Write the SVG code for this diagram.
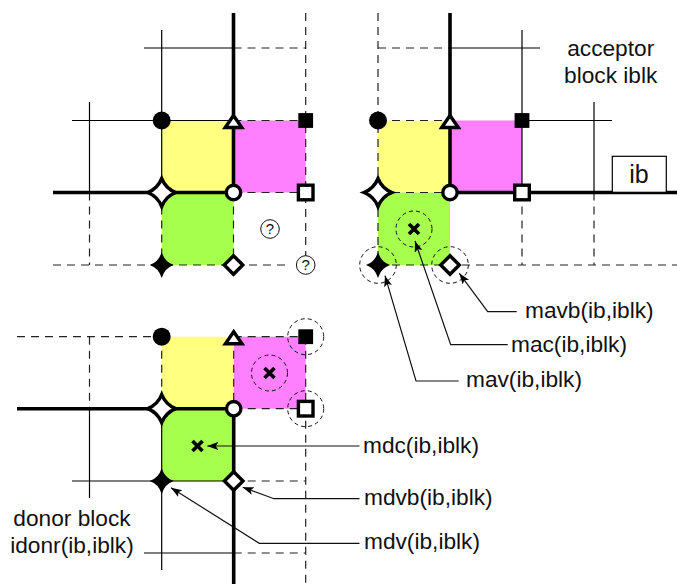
<svg xmlns="http://www.w3.org/2000/svg" xmlns:xlink="http://www.w3.org/1999/xlink" width="677" height="584" viewBox="0 0 677 584">
<style>
.thin{stroke:#000;stroke-width:1.2;fill:none}
.dash{stroke:#222;stroke-width:1.2;fill:none;stroke-dasharray:8 6}
.thick{stroke:#000;stroke-width:3.6;fill:none}
.lead{stroke:#111;stroke-width:1.2;fill:none;marker-end:url(#arr)}
.ring{stroke:#111;stroke-width:1;fill:none;stroke-dasharray:4 3.2}
.y{fill:#ffff80}.m{fill:#ff80ff}.g{fill:#a6ff4d}
text{font-family:"Liberation Sans",Arial,sans-serif;font-size:22.7px;fill:#111}
.mid{text-anchor:middle}
.open{fill:#fff;stroke:#000;stroke-width:3.4}
.solid{fill:#000}
.q{fill:#fff;stroke:#111;stroke-width:1}
</style>
<defs>
<marker id="arr" markerWidth="12" markerHeight="10" refX="11" refY="4" orient="auto" markerUnits="userSpaceOnUse"><path d="M0 0L11 4L0 8L2.5 4Z" fill="#000"/></marker>
<circle id="sCirc" r="9" class="solid"/>
<path id="sTri" class="open" d="M0 -5L8.3 7H-8.3Z"/>
<rect id="sSq" x="-7.4" y="-7.4" width="14.8" height="14.8" class="solid"/>
<path id="sStarO" class="open" d="M0 -14Q4 -4 14 0Q4 4 0 14Q-4 4 -14 0Q-4 -4 0 -14Z"/>
<circle id="sCircO" r="7.2" class="open"/>
<rect id="sSqO" x="-7.3" y="-7.3" width="14.6" height="14.6" class="open"/>
<path id="sStar" class="solid" d="M0 -13Q3 -3 12 0Q3 3 0 13Q-3 3 -12 0Q-3 -3 0 -13Z"/>
<path id="sDia" class="open" d="M0 -9.3L9.3 0L0 9.3L-9.3 0Z"/>
<path id="sX" d="M-5 -5L5 5M5 -5L-5 5" stroke="#000" stroke-width="3.6" fill="none"/>
</defs>

<g id="fills">
<rect class="m" x="233.5" y="120.5" width="72.2" height="72"/>
<rect class="y" x="161.7" y="120.5" width="72" height="72" rx="11"/>
<rect class="g" x="161.7" y="192.5" width="72" height="72.5" rx="11"/>
<rect class="m" x="450" y="120.5" width="72" height="72"/>
<rect class="y" x="378" y="120.5" width="72" height="72" rx="11"/>
<rect class="g" x="378" y="192.5" width="72" height="72.5" rx="11"/>
<rect class="m" x="233.7" y="336.7" width="72" height="72"/>
<rect class="y" x="161.7" y="336.7" width="72" height="72" rx="11"/>
<rect class="g" x="161.7" y="408.7" width="72" height="72.3" rx="11"/>
</g>

<g id="grid">
<path class="thin" d="M161.7 30V192M144 48H233.5M72 120.5H233.5M89.5 102V192"/>
<path class="dash" d="M233.5 48H305.7M305.7 13V265M233.5 120.5H305.7M233.5 192.5H305.7M233.5 192.5V265M161.7 192.5V265M89.5 192.5V265M53 265H290"/>
<path class="thin" d="M522 30V192M450 48H540M522 120.5H612M594 102V192"/>
<path class="dash" d="M378 13V265M378 48H450M378 120.5H450M378 192.5H450M522 192.5V265M594 192.5V265M378 265H677"/>
<path class="thin" d="M161.7 408.7V570M72 481H233.7M144 553H233.7M89.5 408.7V498"/>
<path class="dash" d="M17 336.7H161.7M89.5 336.7V408.7M161.7 336.7V408.7M233.7 336.7V408.7M233.7 336.7H305.7M233.7 408.7H305.7M305.7 336.7V584M233.7 481H305.7M233.7 553H305.7"/>
</g>

<g id="block-walls">
<path class="thick" d="M233.5 13V192.5H53"/>
<path class="thick" d="M450 13V192.5H677"/>
<path class="thick" d="M17 408.7H233.7V584"/>
</g>

<g id="node-ib">
<rect x="612.3" y="156.3" width="54" height="36" fill="#fff" stroke="#000" stroke-width="1.2"/>
<text class="mid" x="639" y="183" style="font-size:25px">ib</text>
</g>

<g id="node-acceptor-panel">
<use href="#sCirc" x="161.7" y="120.5"/><use href="#sTri" x="233.5" y="120.5"/><use href="#sSq" x="305.7" y="120.5"/>
<use href="#sStarO" x="161.7" y="192.5"/><use href="#sCircO" x="233.5" y="192.5"/><use href="#sSqO" x="305.7" y="192.5"/>
<use href="#sStar" x="161.7" y="265"/><use href="#sDia" x="233.5" y="265"/>
<circle class="q" cx="270" cy="229" r="9.3"/><text class="mid" x="270" y="234" style="font-size:15px">?</text>
<circle class="q" cx="305.7" cy="265" r="9.3"/><text class="mid" x="305.7" y="270" style="font-size:15px">?</text>
</g>

<g id="node-acceptor-metrics">
<use href="#sCirc" x="378" y="120.5"/><use href="#sTri" x="450" y="120.5"/><use href="#sSq" x="522" y="120.5"/>
<use href="#sStarO" x="378" y="192.5"/><use href="#sCircO" x="450" y="192.5"/><use href="#sSqO" x="522" y="192.5"/>
<use href="#sX" x="414" y="229"/><use href="#sStar" x="378" y="265"/><use href="#sDia" x="450" y="265"/>
<circle class="ring" cx="414" cy="229" r="18"/><circle class="ring" cx="378" cy="265" r="18.3"/><circle class="ring" cx="450" cy="265" r="18.3"/>
</g>

<g id="node-donor-metrics">
<use href="#sCirc" x="161.7" y="336.7"/><use href="#sTri" x="233.7" y="336.7"/><use href="#sSq" x="305.7" y="336.7"/>
<use href="#sStarO" x="161.7" y="408.7"/><use href="#sCircO" x="233.7" y="408.7"/><use href="#sSqO" x="305.7" y="408.7"/>
<use href="#sX" x="269.5" y="373"/><use href="#sX" x="197.5" y="446"/><use href="#sStar" x="161.7" y="481"/><use href="#sDia" x="233.7" y="481"/>
<circle class="ring" cx="305.7" cy="336.7" r="18"/><circle class="ring" cx="305.7" cy="408.7" r="18"/><circle class="ring" cx="269.5" cy="373" r="18"/>
</g>

<g id="connectors">
<path class="lead" d="M516.7 311.7H487.7L459.3 273.3"/>
<path class="lead" d="M507.7 344.7H450.7L415 241"/>
<path class="lead" d="M458.7 381H416L385 275.7"/>
<path class="lead" d="M359.5 446H207.3"/>
<path class="lead" d="M359.5 498.7H274L242.7 487.3"/>
<path class="lead" d="M359.5 543.3H259.3L171 487.7"/>
</g>

<g id="labels">
<text class="mid" x="610.7" y="56">acceptor</text>
<text class="mid" x="610.7" y="83">block iblk</text>
<text class="mid" x="72" y="526">donor block</text>
<text class="mid" x="72" y="553">idonr(ib,iblk)</text>
<text x="525" y="318">mavb(ib,iblk)</text>
<text x="511" y="352">mac(ib,iblk)</text>
<text x="466" y="387">mav(ib,iblk)</text>
<text x="363" y="453">mdc(ib,iblk)</text>
<text x="364" y="505">mdvb(ib,iblk)</text>
<text x="364" y="549">mdv(ib,iblk)</text>
</g>
</svg>
